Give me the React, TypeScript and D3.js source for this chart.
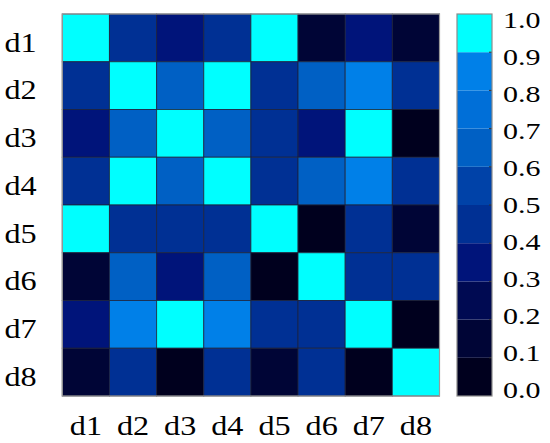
import React from 'react';
import * as d3 from 'd3';

const labels = ['d1', 'd2', 'd3', 'd4', 'd5', 'd6', 'd7', 'd8'];

// similarity matrix, rows d1..d8, columns d1..d8
const rowD1 = [1.0, 0.45, 0.35, 0.45, 1.0, 0.15, 0.35, 0.15];
const rowD2 = [0.45, 1.0, 0.65, 1.0, 0.45, 0.65, 0.85, 0.45];
const rowD3 = [0.35, 0.65, 1.0, 0.65, 0.45, 0.35, 1.0, 0.05];
const rowD4 = [0.45, 1.0, 0.65, 1.0, 0.45, 0.65, 0.85, 0.45];
const rowD5 = [1.0, 0.45, 0.45, 0.45, 1.0, 0.05, 0.45, 0.15];
const rowD6 = [0.15, 0.65, 0.35, 0.65, 0.05, 1.0, 0.45, 0.45];
const rowD7 = [0.35, 0.85, 1.0, 0.85, 0.45, 0.45, 1.0, 0.05];
const rowD8 = [0.15, 0.45, 0.05, 0.45, 0.15, 0.45, 0.05, 1.0];
const matrix = [rowD1, rowD2, rowD3, rowD4, rowD5, rowD6, rowD7, rowD8];

const thresholds = [0.1, 0.2, 0.3, 0.4, 0.5, 0.6, 0.7, 0.8, 0.9];
const bandColors = [
  '#00001e', '#000536', '#000a52', '#00147a', '#003094',
  '#0042a8', '#0060c4', '#006fd8', '#0080e8', '#00ffff',
];
const tickValues = [0, 0.1, 0.2, 0.3, 0.4, 0.5, 0.6, 0.7, 0.8, 0.9, 1.0];

const FONT = "'Liberation Serif', 'Times New Roman', Times, serif";

export default function App() {
  const x = d3.scaleBand<string>().domain(labels).range([62.3, 439.5]);
  const y = d3.scaleBand<string>().domain(labels).range([14, 396]);
  const color = d3.scaleThreshold<number, string>().domain(thresholds).range(bandColors);
  const cbY = d3.scaleLinear().domain([0, 1]).range([396, 14]);
  const cbLabelY = d3.scaleLinear().domain([0, 1]).range([397.5, 27.7]);
  const cbX0 = 457;
  const cbX1 = 492;
  const bands = d3.range(10).map((i) => [i / 10, (i + 1) / 10]);

  return (
    <svg width={550} height={443} style={{ position: 'absolute', left: 0, top: 0, background: '#fff' }}>
      <g>
        {matrix.map((row, ri) =>
          row.map((v, ci) => (
            <rect
              key={`${ri}-${ci}`}
              x={x(labels[ci])}
              y={y(labels[ri])}
              width={x.bandwidth()}
              height={y.bandwidth()}
              fill={color(v)}
              stroke="#1c2238"
              strokeOpacity={0.75}
              strokeWidth={1}
            />
          ))
        )}
        <rect x={62.3} y={14} width={439.5 - 62.3} height={396 - 14} fill="none" stroke="#9a9a9a" strokeWidth={1.2} />
      </g>
      <g style={{ fontFamily: FONT, fontSize: '28px' }} fill="#000">
        {labels.map((l) => (
          <text
            key={'y' + l}
            transform={`translate(20.5,${(y(l) as number) + y.bandwidth() / 2 + 13.8}) scale(1.15,1)`}
            textAnchor="middle"
          >
            {l}
          </text>
        ))}
        {labels.map((l) => (
          <text
            key={'x' + l}
            transform={`translate(${(x(l) as number) + x.bandwidth() / 2},435) scale(1.15,1)`}
            textAnchor="middle"
          >
            {l}
          </text>
        ))}
      </g>
      <g>
        {bands.map(([a, b], i) => (
          <rect
            key={'cb' + i}
            x={cbX0}
            y={cbY(b)}
            width={cbX1 - cbX0}
            height={cbY(a) - cbY(b)}
            fill={color((a + b) / 2)}
          />
        ))}
        {tickValues.slice(1, -1).map((t) => (
          <line key={'ct' + t} x1={cbX1 - 3} x2={cbX1} y1={cbY(t)} y2={cbY(t)} stroke="#333" strokeWidth={1} />
        ))}
        <rect x={cbX0} y={14} width={cbX1 - cbX0} height={396 - 14} fill="none" stroke="#8c8c8c" strokeWidth={1.2} />
      </g>
      <g style={{ fontFamily: FONT, fontSize: '24px' }} fill="#000">
        {tickValues.map((t) => (
          <text key={'cl' + t} transform={`translate(503,${cbLabelY(t)}) scale(1.25,1)`} textAnchor="start">
            {t.toFixed(1)}
          </text>
        ))}
      </g>
    </svg>
  );
}
